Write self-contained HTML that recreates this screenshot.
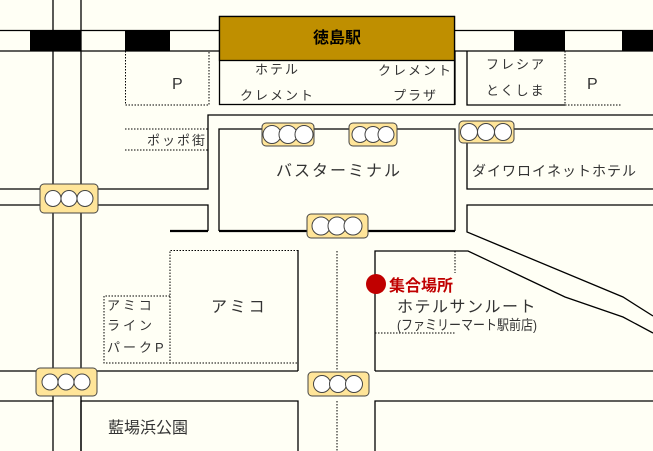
<!DOCTYPE html><html><head><meta charset="utf-8"><style>html,body{margin:0;padding:0;background:#fffff5}svg{display:block}text{font-family:"Liberation Sans","Noto Sans CJK JP",sans-serif;fill:#333}</style></head><body>
<svg width="653" height="451" viewBox="0 0 653 451" xmlns="http://www.w3.org/2000/svg">
<rect width="653" height="451" fill="#fffff5"/>
<g stroke="#000" stroke-width="1.3" fill="none">
<line x1="0" y1="30.5" x2="220" y2="30.5"/><line x1="0" y1="51" x2="220" y2="51"/>
<line x1="455" y1="30.5" x2="653" y2="30.5"/><line x1="455" y1="51" x2="653" y2="51"/>
<line x1="53" y1="0" x2="53" y2="451"/><line x1="81" y1="0" x2="81" y2="451"/>
<rect x="219.5" y="16.5" width="235" height="88" fill="#fffff5"/>
<rect x="219.5" y="16.5" width="235" height="44" fill="#bf8f00"/>
<polyline points="467,51 467,105 565,105"/>
<line x1="455" y1="51" x2="455" y2="105"/>
<polyline points="653,115 208,115 208,189 0,189"/>
<polyline points="0,205 208,205 208,231"/>
<line x1="170" y1="231" x2="208" y2="231" stroke-width="2.2"/>
<polyline points="219,231 219,129 455,129 455,231"/>
<line x1="219" y1="231" x2="455" y2="231" stroke-width="2.2"/>
<polyline points="653,129 467,129 467,189 653,189"/>
<polyline points="653,205 467,205 467,232 623,297 653,316"/>
<polyline points="375,371 375,251 468,251 565,297 623,317 653,333"/>
<line x1="298" y1="250" x2="298" y2="371"/>
<line x1="0" y1="371" x2="53" y2="371"/><line x1="81" y1="371" x2="298" y2="371"/><line x1="375" y1="371" x2="653" y2="371"/>
<polyline points="0,401 53,401"/><polyline points="81,451 81,401 298,401 298,451"/><polyline points="375,451 375,401 653,401"/>
</g>
<g fill="#000"><rect x="30" y="30" width="51" height="21"/><rect x="125" y="30" width="45" height="21"/><rect x="514" y="30" width="51" height="21"/><rect x="622" y="30" width="31" height="21"/></g>
<g stroke="#000" stroke-width="1" fill="none" stroke-dasharray="1.5,1.5">
<polyline points="125.5,51 125.5,105 209,105 209,51"/>
<line x1="565" y1="51" x2="565" y2="105"/><line x1="565" y1="105" x2="622" y2="105"/>
<line x1="125" y1="129" x2="208" y2="129"/><line x1="125" y1="150" x2="208" y2="150"/>
<polyline points="298,250.5 170,250.5 170,363 298,363"/>
<polyline points="170,296 104,296 104,363 170,363"/>
<line x1="337" y1="251" x2="337" y2="371"/><line x1="337" y1="401" x2="337" y2="451"/>
<line x1="455" y1="251" x2="455" y2="273"/><line x1="375" y1="333" x2="456" y2="333"/>
</g>
<g stroke="#444" stroke-width="1">
<g transform="translate(40,184)"><rect width="58" height="29" rx="4" fill="#ffe599"/><circle cx="13" cy="14.5" r="8" fill="#fff"/><circle cx="29" cy="14.5" r="8" fill="#fff"/><circle cx="45" cy="14.5" r="8" fill="#fff"/></g>
<g transform="translate(262,123)"><rect width="52" height="23" rx="4" fill="#ffe599"/><circle cx="10" cy="11.5" r="9" fill="#fff"/><circle cx="26" cy="11.5" r="9" fill="#fff"/><circle cx="42" cy="11.5" r="9" fill="#fff"/></g>
<g transform="translate(349,123)"><rect width="48" height="23" rx="4" fill="#ffe599"/><circle cx="11" cy="11.5" r="8" fill="#fff"/><circle cx="24" cy="11.5" r="8" fill="#fff"/><circle cx="37" cy="11.5" r="8" fill="#fff"/></g>
<g transform="translate(459,121)"><rect width="55" height="22" rx="4" fill="#ffe599"/><circle cx="10" cy="11" r="8.5" fill="#fff"/><circle cx="27" cy="11" r="8.5" fill="#fff"/><circle cx="44" cy="11" r="8.5" fill="#fff"/></g>
<g transform="translate(307,214)"><rect width="61" height="24" rx="4" fill="#ffe599"/><circle cx="14" cy="12" r="9" fill="#fff"/><circle cx="30" cy="12" r="9" fill="#fff"/><circle cx="46" cy="12" r="9" fill="#fff"/></g>
<g transform="translate(36,368)"><rect width="61" height="28" rx="4" fill="#ffe599"/><circle cx="14" cy="14" r="8" fill="#fff"/><circle cx="30" cy="14" r="8" fill="#fff"/><circle cx="46" cy="14" r="8" fill="#fff"/></g>
<g transform="translate(308,372)"><rect width="61" height="24" rx="4" fill="#ffe599"/><circle cx="14" cy="12" r="8.5" fill="#fff"/><circle cx="30" cy="12" r="8.5" fill="#fff"/><circle cx="46" cy="12" r="8.5" fill="#fff"/></g>
</g>
<circle cx="376" cy="284" r="10" fill="#c00000"/>
<text x="337" y="43" text-anchor="middle" font-size="16" font-weight="bold" style="fill:#000">徳島駅</text>
<g font-size="13" letter-spacing="2">
<text x="255" y="74">ホテル</text><text x="240" y="100">クレメント</text>
<text x="378" y="75">クレメント</text><text x="393" y="100">プラザ</text>
<text x="486" y="69">フレシア</text><text x="486" y="95">とくしま</text>
<text x="147" y="145">ポッポ街</text>
</g>
<text x="172" y="89" font-size="16">P</text><text x="587" y="89" font-size="16">P</text>
<text x="276" y="176" font-size="16" letter-spacing="2">バスターミナル</text>
<text x="472" y="176" font-size="14" letter-spacing="1">ダイワロイネットホテル</text>
<text x="211" y="312" font-size="16" letter-spacing="3">アミコ</text>
<g font-size="13" letter-spacing="3"><text x="107" y="310">アミコ</text><text x="107" y="330">ライン</text><text x="107" y="352">パークP</text></g>
<text x="389" y="291" font-size="16" font-weight="bold" style="fill:#c00000">集合場所</text>
<text x="397" y="312" font-size="16" letter-spacing="1.5">ホテルサンルート</text>
<text x="397" y="330" font-size="14" textLength="140" lengthAdjust="spacingAndGlyphs">(ファミリーマート駅前店)</text>
<text x="108" y="433" font-size="16">藍場浜公園</text>
</svg></body></html>
